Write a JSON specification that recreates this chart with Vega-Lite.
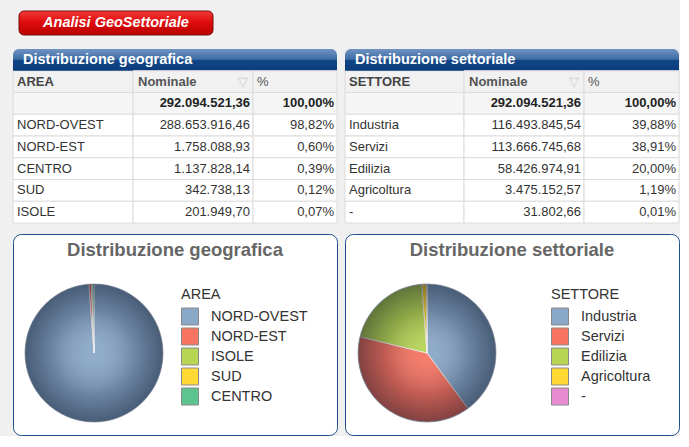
{
  "$schema": "https://vega.github.io/schema/vega-lite/v6.json",
  "background": "#f0f0f0",
  "padding": {"left": 12, "top": 10, "right": 0, "bottom": 0},
  "config": {
    "view": {"stroke": null},
    "font": "Liberation Sans"
  },
  "datasets": {
    "geoTable": [
      {"r": 0, "c1": "Distribuzione geografica", "c2": "", "c3": "", "kind": "title"},
      {"r": 1, "c1": "AREA", "c2": "Nominale", "c3": "%", "kind": "head"},
      {"r": 2, "c1": "", "c2": "292.094.521,36", "c3": "100,00%", "kind": "tot"},
      {"r": 3, "c1": "NORD-OVEST", "c2": "288.653.916,46", "c3": "98,82%", "kind": "data"},
      {"r": 4, "c1": "NORD-EST", "c2": "1.758.088,93", "c3": "0,60%", "kind": "data"},
      {"r": 5, "c1": "CENTRO", "c2": "1.137.828,14", "c3": "0,39%", "kind": "data"},
      {"r": 6, "c1": "SUD", "c2": "342.738,13", "c3": "0,12%", "kind": "data"},
      {"r": 7, "c1": "ISOLE", "c2": "201.949,70", "c3": "0,07%", "kind": "data"}
    ],
    "setTable": [
      {"r": 0, "c1": "Distribuzione settoriale", "c2": "", "c3": "", "kind": "title"},
      {"r": 1, "c1": "SETTORE", "c2": "Nominale", "c3": "%", "kind": "head"},
      {"r": 2, "c1": "", "c2": "292.094.521,36", "c3": "100,00%", "kind": "tot"},
      {"r": 3, "c1": "Industria", "c2": "116.493.845,54", "c3": "39,88%", "kind": "data"},
      {"r": 4, "c1": "Servizi", "c2": "113.666.745,68", "c3": "38,91%", "kind": "data"},
      {"r": 5, "c1": "Edilizia", "c2": "58.426.974,91", "c3": "20,00%", "kind": "data"},
      {"r": 6, "c1": "Agricoltura", "c2": "3.475.152,57", "c3": "1,19%", "kind": "data"},
      {"r": 7, "c1": "-", "c2": "31.802,66", "c3": "0,01%", "kind": "data"}
    ],
    "geoPie": [
      {"area": "NORD-OVEST", "v": 288653916.46, "ord": 1},
      {"area": "NORD-EST", "v": 1758088.93, "ord": 2},
      {"area": "ISOLE", "v": 201949.70, "ord": 3},
      {"area": "SUD", "v": 342738.13, "ord": 4},
      {"area": "CENTRO", "v": 1137828.14, "ord": 5}
    ],
    "setPie": [
      {"settore": "Industria", "v": 116493845.54, "ord": 1},
      {"settore": "Servizi", "v": 113666745.68, "ord": 2},
      {"settore": "Edilizia", "v": 58426974.91, "ord": 3},
      {"settore": "Agricoltura", "v": 3475152.57, "ord": 4},
      {"settore": "-", "v": 31802.66, "ord": 5}
    ]
  },
  "spacing": 9,
  "vconcat": [
    {
      "spacing": 5,
      "bounds": "flush",
      "hconcat": [
        {"width": 1, "height": 29, "data": {"values": []}, "mark": "point"},
        {
          "width": 194, "height": 24,
          "data": {"values": [{"t": "Analisi GeoSettoriale"}]},
          "layer": [
            {"mark": {"type": "rect", "cornerRadius": 5, "stroke": "#7a0a0a", "strokeWidth": 1,
              "color": {"gradient": "linear", "x1": 0, "y1": 0, "x2": 0, "y2": 1,
                "stops": [{"offset": 0, "color": "#f23a3a"}, {"offset": 0.45, "color": "#e00d0d"}, {"offset": 1, "color": "#b80000"}]}},
             "encoding": {}},
            {"mark": {"type": "text", "color": "white", "fontSize": 14.5, "fontWeight": "bold", "fontStyle": "italic", "baseline": "middle"},
             "encoding": {"text": {"field": "t"}}}
          ]
        }
      ]
    },
    {
      "spacing": 0,
      "bounds": "flush",
      "hconcat": [
        {
          "width": 120, "height": 174, "data": {"name": "geoTable"},
          "encoding": {"y": {"field": "r", "type": "ordinal", "axis": null, "scale": {"domain": [0, 1, 2, 3, 4, 5, 6, 7], "paddingInner": 0, "paddingOuter": 0}}},
          "layer": [
            {"transform": [{"filter": "datum.kind != 'title'"}],
             "mark": {"type": "rect", "stroke": "#dcdcdc", "strokeWidth": 1},
             "encoding": {"fill": {"condition": [{"test": "datum.kind == 'head'", "value": "#f1f1f1"}, {"test": "datum.kind == 'tot'", "value": "#f5f5f5"}], "value": "#ffffff"}}},
            {"transform": [{"filter": "datum.kind == 'title'"}],
             "mark": {"type": "rect", "x": 0, "x2": 324, "cornerRadiusTopLeft": 6, "cornerRadiusTopRight": 6,
               "color": {"gradient": "linear", "x1": 0, "y1": 0, "x2": 0, "y2": 1,
                 "stops": [{"offset": 0, "color": "#6f94c2"}, {"offset": 0.47, "color": "#3f6ca5"}, {"offset": 0.53, "color": "#104686"}, {"offset": 1, "color": "#0b3c7c"}]}}},
            {"transform": [{"filter": "datum.kind == 'title'"}],
             "mark": {"type": "text", "align": "left", "x": 10, "fontSize": 14.5, "fontWeight": "bold", "color": "white"},
             "encoding": {"text": {"field": "c1"}}},
            {"transform": [{"filter": "datum.kind == 'head'"}],
             "mark": {"type": "text", "align": "left", "x": 4, "fontSize": 13, "fontWeight": "bold", "color": "#444"},
             "encoding": {"text": {"field": "c1"}}},
            {"transform": [{"filter": "datum.kind == 'data'"}],
             "mark": {"type": "text", "align": "left", "x": 4, "fontSize": 13, "color": "#333"},
             "encoding": {"text": {"field": "c1"}}}
          ]
        },
        {
          "width": 120, "height": 174, "data": {"name": "geoTable"},
          "encoding": {"y": {"field": "r", "type": "ordinal", "axis": null, "scale": {"domain": [0, 1, 2, 3, 4, 5, 6, 7], "paddingInner": 0, "paddingOuter": 0}}},
          "layer": [
            {"transform": [{"filter": "datum.kind != 'title'"}],
             "mark": {"type": "rect", "stroke": "#dcdcdc", "strokeWidth": 1},
             "encoding": {"fill": {"condition": [{"test": "datum.kind == 'head'", "value": "#f1f1f1"}, {"test": "datum.kind == 'tot'", "value": "#f5f5f5"}], "value": "#ffffff"}}},
            {"transform": [{"filter": "datum.kind == 'head'"}],
             "mark": {"type": "text", "align": "left", "x": 5, "fontSize": 13, "fontWeight": "bold", "color": "#555"},
             "encoding": {"text": {"field": "c2"}}},
            {"transform": [{"filter": "datum.kind == 'head'"}],
             "mark": {"type": "text", "text": "▽", "align": "right", "x": "width", "dx": -5, "font": "DejaVu Sans", "fontSize": 13, "color": "#cfcfcf"}},
            {"transform": [{"filter": "datum.kind == 'tot'"}],
             "mark": {"type": "text", "align": "right", "x": "width", "dx": -3, "fontSize": 13, "fontWeight": "bold", "color": "#222"},
             "encoding": {"text": {"field": "c2"}}},
            {"transform": [{"filter": "datum.kind == 'data'"}],
             "mark": {"type": "text", "align": "right", "x": "width", "dx": -3, "fontSize": 13, "color": "#333"},
             "encoding": {"text": {"field": "c2"}}}
          ]
        },
        {
          "width": 84, "height": 174, "data": {"name": "geoTable"},
          "encoding": {"y": {"field": "r", "type": "ordinal", "axis": null, "scale": {"domain": [0, 1, 2, 3, 4, 5, 6, 7], "paddingInner": 0, "paddingOuter": 0}}},
          "layer": [
            {"transform": [{"filter": "datum.kind != 'title'"}],
             "mark": {"type": "rect", "stroke": "#dcdcdc", "strokeWidth": 1},
             "encoding": {"fill": {"condition": [{"test": "datum.kind == 'head'", "value": "#f1f1f1"}, {"test": "datum.kind == 'tot'", "value": "#f5f5f5"}], "value": "#ffffff"}}},
            {"transform": [{"filter": "datum.kind == 'head'"}],
             "mark": {"type": "text", "align": "left", "x": 4, "fontSize": 13, "color": "#555"},
             "encoding": {"text": {"field": "c3"}}},
            {"transform": [{"filter": "datum.kind == 'tot'"}],
             "mark": {"type": "text", "align": "right", "x": "width", "dx": -3, "fontSize": 13, "fontWeight": "bold", "color": "#222"},
             "encoding": {"text": {"field": "c3"}}},
            {"transform": [{"filter": "datum.kind == 'data'"}],
             "mark": {"type": "text", "align": "right", "x": "width", "dx": -3, "fontSize": 13, "color": "#333"},
             "encoding": {"text": {"field": "c3"}}}
          ]
        },
        {"width": 8, "height": 174, "data": {"values": []}, "mark": "point"},
        {
          "width": 119, "height": 174, "data": {"name": "setTable"},
          "encoding": {"y": {"field": "r", "type": "ordinal", "axis": null, "scale": {"domain": [0, 1, 2, 3, 4, 5, 6, 7], "paddingInner": 0, "paddingOuter": 0}}},
          "layer": [
            {"transform": [{"filter": "datum.kind != 'title'"}],
             "mark": {"type": "rect", "stroke": "#dcdcdc", "strokeWidth": 1},
             "encoding": {"fill": {"condition": [{"test": "datum.kind == 'head'", "value": "#f1f1f1"}, {"test": "datum.kind == 'tot'", "value": "#f5f5f5"}], "value": "#ffffff"}}},
            {"transform": [{"filter": "datum.kind == 'title'"}],
             "mark": {"type": "rect", "x": 0, "x2": 334, "cornerRadiusTopLeft": 6, "cornerRadiusTopRight": 6,
               "color": {"gradient": "linear", "x1": 0, "y1": 0, "x2": 0, "y2": 1,
                 "stops": [{"offset": 0, "color": "#6f94c2"}, {"offset": 0.47, "color": "#3f6ca5"}, {"offset": 0.53, "color": "#104686"}, {"offset": 1, "color": "#0b3c7c"}]}}},
            {"transform": [{"filter": "datum.kind == 'title'"}],
             "mark": {"type": "text", "align": "left", "x": 10, "fontSize": 14.5, "fontWeight": "bold", "color": "white"},
             "encoding": {"text": {"field": "c1"}}},
            {"transform": [{"filter": "datum.kind == 'head'"}],
             "mark": {"type": "text", "align": "left", "x": 4, "fontSize": 13, "fontWeight": "bold", "color": "#444"},
             "encoding": {"text": {"field": "c1"}}},
            {"transform": [{"filter": "datum.kind == 'data'"}],
             "mark": {"type": "text", "align": "left", "x": 4, "fontSize": 13, "color": "#333"},
             "encoding": {"text": {"field": "c1"}}}
          ]
        },
        {
          "width": 120, "height": 174, "data": {"name": "setTable"},
          "encoding": {"y": {"field": "r", "type": "ordinal", "axis": null, "scale": {"domain": [0, 1, 2, 3, 4, 5, 6, 7], "paddingInner": 0, "paddingOuter": 0}}},
          "layer": [
            {"transform": [{"filter": "datum.kind != 'title'"}],
             "mark": {"type": "rect", "stroke": "#dcdcdc", "strokeWidth": 1},
             "encoding": {"fill": {"condition": [{"test": "datum.kind == 'head'", "value": "#f1f1f1"}, {"test": "datum.kind == 'tot'", "value": "#f5f5f5"}], "value": "#ffffff"}}},
            {"transform": [{"filter": "datum.kind == 'head'"}],
             "mark": {"type": "text", "align": "left", "x": 5, "fontSize": 13, "fontWeight": "bold", "color": "#555"},
             "encoding": {"text": {"field": "c2"}}},
            {"transform": [{"filter": "datum.kind == 'head'"}],
             "mark": {"type": "text", "text": "▽", "align": "right", "x": "width", "dx": -5, "font": "DejaVu Sans", "fontSize": 13, "color": "#cfcfcf"}},
            {"transform": [{"filter": "datum.kind == 'tot'"}],
             "mark": {"type": "text", "align": "right", "x": "width", "dx": -3, "fontSize": 13, "fontWeight": "bold", "color": "#222"},
             "encoding": {"text": {"field": "c2"}}},
            {"transform": [{"filter": "datum.kind == 'data'"}],
             "mark": {"type": "text", "align": "right", "x": "width", "dx": -3, "fontSize": 13, "color": "#333"},
             "encoding": {"text": {"field": "c2"}}}
          ]
        },
        {
          "width": 95, "height": 174, "data": {"name": "setTable"},
          "encoding": {"y": {"field": "r", "type": "ordinal", "axis": null, "scale": {"domain": [0, 1, 2, 3, 4, 5, 6, 7], "paddingInner": 0, "paddingOuter": 0}}},
          "layer": [
            {"transform": [{"filter": "datum.kind != 'title'"}],
             "mark": {"type": "rect", "stroke": "#dcdcdc", "strokeWidth": 1},
             "encoding": {"fill": {"condition": [{"test": "datum.kind == 'head'", "value": "#f1f1f1"}, {"test": "datum.kind == 'tot'", "value": "#f5f5f5"}], "value": "#ffffff"}}},
            {"transform": [{"filter": "datum.kind == 'head'"}],
             "mark": {"type": "text", "align": "left", "x": 4, "fontSize": 13, "color": "#555"},
             "encoding": {"text": {"field": "c3"}}},
            {"transform": [{"filter": "datum.kind == 'tot'"}],
             "mark": {"type": "text", "align": "right", "x": "width", "dx": -3, "fontSize": 13, "fontWeight": "bold", "color": "#222"},
             "encoding": {"text": {"field": "c3"}}},
            {"transform": [{"filter": "datum.kind == 'data'"}],
             "mark": {"type": "text", "align": "right", "x": "width", "dx": -3, "fontSize": 13, "color": "#333"},
             "encoding": {"text": {"field": "c3"}}}
          ]
        }
      ]
    },
    {
      "spacing": 8,
      "bounds": "flush",
      "resolve": {"scale": {"color": "independent"}, "legend": {"color": "independent"}},
      "hconcat": [
        {
          "width": 324, "height": 201,
          "view": {"fill": "white", "stroke": "#1f4e8c", "strokeWidth": 1, "cornerRadius": 8},
          "data": {"name": "geoPie"},
          "layer": [
            {"mark": {"type": "arc", "x": 81, "y": 119, "outerRadius": 69, "stroke": "#eeeeee", "strokeWidth": 0.8},
             "encoding": {
               "theta": {"field": "v", "type": "quantitative", "stack": true},
               "order": {"field": "ord", "type": "quantitative"},
               "color": {"field": "area", "type": "nominal",
                 "scale": {"domain": ["NORD-OVEST", "NORD-EST", "ISOLE", "SUD", "CENTRO"], "range": ["#8aa8c8", "#f87462", "#b8d554", "#ffd833", "#5ec48f"]},
                 "legend": {"orient": "none", "legendX": 168, "legendY": 54, "title": "AREA", "symbolType": "square", "symbolSize": 289, "symbolStrokeColor": "#8a8a8a", "symbolStrokeWidth": 1, "symbolOpacity": 1, "rowPadding": -14, "labelFontSize": 14.5, "titleFontSize": 14.5, "titleFontWeight": "normal", "labelColor": "#333", "titleColor": "#333", "labelOffset": 12, "titlePadding": 5, "labelFont": "Liberation Sans", "titleFont": "Liberation Sans"}}
             }},
            {"data": {"values": [{"o": 1}]},
             "mark": {"type": "arc", "x": 81, "y": 119, "outerRadius": 69, "stroke": "#55667a", "strokeWidth": 0.8, "strokeOpacity": 0.6,
               "fill": {"gradient": "radial", "x1": 0.5, "y1": 0.5, "r1": 0, "x2": 0.5, "y2": 0.5, "r2": 0.5,
                 "stops": [{"offset": 0, "color": "rgba(255,255,255,0.05)"}, {"offset": 0.6, "color": "rgba(0,10,30,0.22)"}, {"offset": 1, "color": "rgba(0,10,30,0.48)"}]}},
             "encoding": {}},
            {"data": {"values": [{"t": "Distribuzione geografica"}]},
             "mark": {"type": "text", "y": 22, "baseline": "alphabetic", "fontSize": 18.5, "fontWeight": "bold", "color": "#666"},
             "encoding": {"text": {"field": "t"}}}
          ]
        },
        {
          "width": 334, "height": 201,
          "view": {"fill": "white", "stroke": "#1f4e8c", "strokeWidth": 1, "cornerRadius": 8},
          "data": {"name": "setPie"},
          "layer": [
            {"mark": {"type": "arc", "x": 82, "y": 119, "outerRadius": 69, "stroke": "#eeeeee", "strokeWidth": 0.8},
             "encoding": {
               "theta": {"field": "v", "type": "quantitative", "stack": true},
               "order": {"field": "ord", "type": "quantitative"},
               "color": {"field": "settore", "type": "nominal",
                 "scale": {"domain": ["Industria", "Servizi", "Edilizia", "Agricoltura", "-"], "range": ["#8aa8c8", "#f87462", "#b8d554", "#ffd833", "#e88bd0"]},
                 "legend": {"orient": "none", "legendX": 206, "legendY": 54, "title": "SETTORE", "symbolType": "square", "symbolSize": 289, "symbolStrokeColor": "#8a8a8a", "symbolStrokeWidth": 1, "symbolOpacity": 1, "rowPadding": -14, "labelFontSize": 14.5, "titleFontSize": 14.5, "titleFontWeight": "normal", "labelColor": "#333", "titleColor": "#333", "labelOffset": 12, "titlePadding": 5, "labelFont": "Liberation Sans", "titleFont": "Liberation Sans"}}
             }},
            {"data": {"values": [{"o": 1}]},
             "mark": {"type": "arc", "x": 82, "y": 119, "outerRadius": 69, "stroke": "#55667a", "strokeWidth": 0.8, "strokeOpacity": 0.6,
               "fill": {"gradient": "radial", "x1": 0.5, "y1": 0.5, "r1": 0, "x2": 0.5, "y2": 0.5, "r2": 0.5,
                 "stops": [{"offset": 0, "color": "rgba(255,255,255,0.05)"}, {"offset": 0.6, "color": "rgba(0,10,30,0.22)"}, {"offset": 1, "color": "rgba(0,10,30,0.48)"}]}},
             "encoding": {}},
            {"data": {"values": [{"t": "Distribuzione settoriale"}]},
             "mark": {"type": "text", "y": 22, "baseline": "alphabetic", "fontSize": 18.5, "fontWeight": "bold", "color": "#666"},
             "encoding": {"text": {"field": "t"}}}
          ]
        }
      ]
    }
  ]
}
